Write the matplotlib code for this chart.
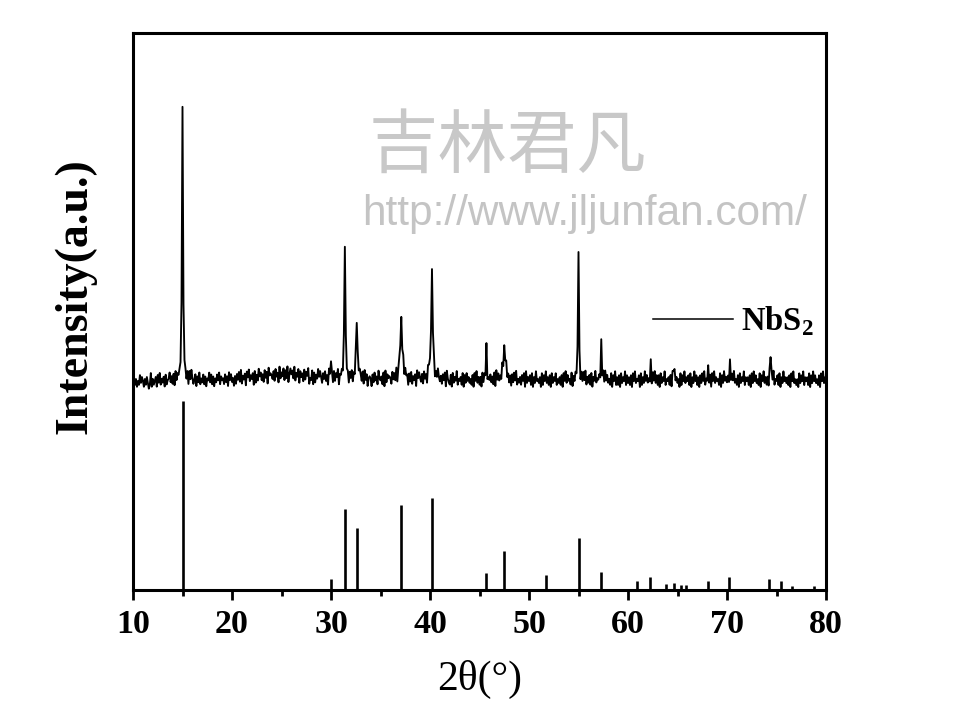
import numpy as np
import matplotlib
matplotlib.use("Agg")
import matplotlib.pyplot as plt
from matplotlib.lines import Line2D

# ---------------- data ----------------
# Reference (standard card) stick pattern: 2theta and relative intensity (%)
ref_pos = [15.0, 30.0, 31.4, 32.6, 37.1, 40.2, 45.7, 47.5, 51.7, 55.0, 57.3,
           60.9, 62.2, 63.8, 64.6, 65.4, 65.9, 68.1, 70.2, 74.2, 75.5, 76.6, 78.8]
ref_int = [100, 5.8, 42.9, 32.8, 45.0, 48.7, 9.0, 20.6, 7.9, 27.5, 9.5,
           4.8, 6.9, 3.2, 3.7, 2.6, 2.6, 4.8, 6.9, 5.8, 4.8, 2.1, 2.1]

# Measured pattern peaks: position, height (a.u.), FWHM (deg)
pk_pos = [15.0, 25.5, 30.0, 31.4, 32.6, 37.1, 40.2, 45.7, 47.5, 55.0, 57.3,
          62.3, 64.6, 68.1, 70.3, 74.4]
pk_h = [274, 5, 18, 137, 63, 58, 104, 28, 30, 133, 36, 18, 12, 12, 14, 26]
pk_w = [0.12, 6.0, 0.10, 0.12, 0.15, 0.25, 0.20, 0.10, 0.30, 0.10, 0.12,
        0.10, 0.10, 0.10, 0.15, 0.10]

# Background noise read level per 0.1 deg step (digit scale), 10-80 deg
noise_10 = "3625142736 4152630281 5246173825 3617245836 2718364527 4635271849 5247163825 3726154837 2615374826 4527361847"
noise_20 = "3516274839 2647185936 4718263957 3628471956 5372846193 6482739158 5739264817 4628375914 3817264958 5274836195"
noise_30 = "4628375916 5739284617 4826391758 6382947156 5173846295 4628193756 5284739168 4729385617 3826471958 5372846197"
noise_40 = "5382716495 3627481953 2718364925 4628173846 3527184936 2618374925 4736281947 3528174936 2617384925 3627481936"
noise_50 = "4728163945 3618274936 2718364825 3627184937 4528163748 2617384926 3728164935 4617283947 3528174926 2718364927"
noise_60 = "3627184935 4718263947 3526184937 2718364925 4627183946 3518274936 4728163947 2617384925 3627184936 4528173946"
noise_70 = "3618274935 2718364926 4627183947 3528174936 2618374925 4728163946 3627184935 2518374926 4628173947 3527184936 5"

x_ticks = [10, 20, 30, 40, 50, 60, 70, 80]
legend_label = r"NbS$_\mathbf{2}$"

# ---------------- build measured curve ----------------
digits = "".join((noise_10 + noise_20 + noise_30 + noise_40 + noise_50 +
                  noise_60 + noise_70).split())
noise = np.array([int(c) for c in digits], dtype=float)
xs = np.round(10 + 0.1 * np.arange(len(noise)), 1)
ys = noise * 1.95
for p, h, w in zip(pk_pos, pk_h, pk_w):
    g = (w / 2) ** 2
    ys = ys + h * g / ((xs - p) ** 2 + g)

offset = 201
stick_scale = 1.89

# ---------------- plot ----------------
plt.rcParams['mathtext.fontset'] = 'custom'
plt.rcParams['mathtext.rm'] = 'Liberation Serif:bold'
plt.rcParams['mathtext.bf'] = 'Liberation Serif:bold'

fig = plt.figure(figsize=(9.6, 7.2), dpi=100)
ax = fig.add_axes([133 / 960, 1 - 590 / 720, 693 / 960, 557 / 720])

ax.plot(xs, ys + offset, color='black', lw=1.35)
ax.vlines(ref_pos, 0, np.array(ref_int) * stick_scale, color='black', lw=1.9)

ax.set_xlim(10, 80)
ax.set_ylim(0, 557)
ax.set_xticks(x_ticks)
ax.set_xticks(np.arange(15, 80, 10), minor=True)
ax.set_yticks([])
ax.tick_params(axis='x', which='major', direction='out', length=7, width=2.0,
               pad=7, labelsize=24.5)
ax.tick_params(axis='x', which='minor', direction='out', length=4, width=2.0)
for lab in ax.get_xticklabels():
    lab.set_fontfamily('Liberation Serif')
    lab.set_fontweight('bold')
for s in ax.spines.values():
    s.set_linewidth(2.2)

ax.set_xlabel("2θ(°)", fontfamily='Liberation Serif', fontsize=30)
ax.xaxis.set_label_coords(0.5, -0.125)
ax.set_ylabel("Intensity(a.u.)", fontfamily='Liberation Serif', fontweight='bold',
              fontsize=33)
ax.yaxis.set_label_coords(-0.052, 0.527)

handle = Line2D([], [], color='black', lw=1.1)
ax.legend([handle], [legend_label], loc='center left',
          bbox_to_anchor=((653 - 133) / 693, (590 - 321) / 557),
          frameon=False, borderpad=0, borderaxespad=0, handlelength=2.45,
          handletextpad=0.25,
          prop={'family': 'Liberation Serif', 'weight': 'bold', 'size': 23.5})

# watermark
fig.text(508 / 960, 1 - 147 / 720, "吉林君凡", fontfamily=['Noto Sans CJK SC', 'DejaVu Sans'],
         fontsize=50, color='#c8c8c8', ha='center', va='center', fontweight='light')
fig.text(585 / 960, 1 - 214 / 720, "http://www.jljunfan.com/", fontfamily='Liberation Sans',
         fontsize=30.5, color='#c4c4c4', ha='center', va='center')

fig.savefig("out.png", dpi=100)
